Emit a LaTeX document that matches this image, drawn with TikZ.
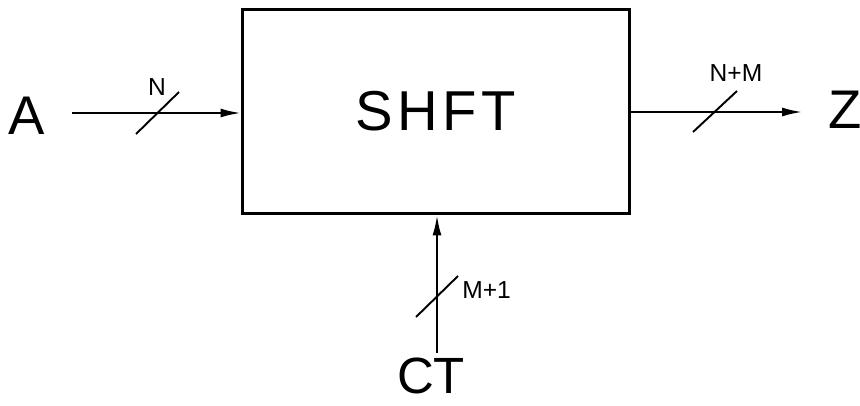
\documentclass[tikz,border=0pt]{standalone}
\usepackage{fontspec}
\setmainfont{Liberation Sans}
\usepackage{tikz}
\usetikzlibrary{positioning, calc, arrows.meta}

\tikzset{
    bigtxt/.style={font=\fontsize{31}{33}\selectfont, inner sep=0pt},
    bustxt/.style={font=\fontsize{14}{16}\selectfont, inner sep=0pt},
    sig/.style={line width=1.1pt, -{Latex[length=4mm, width=1.8mm]}},
    slash/.style={line width=1.1pt}
}

\begin{document}
\begin{tikzpicture}[x=0.02cm, y=-0.02cm]

    \useasboundingbox (0,0) rectangle (860,406);

    % --- Shifter Block ---
    \node[draw, line width=1.7pt, minimum width=7.76cm, minimum height=4.1cm,
          bigtxt, font=\fontsize{32}{34}\selectfont\addfontfeature{LetterSpace=8}] (shft) at (436,111.5) {SHFT};

    % --- Ports ---
    \node[bigtxt] (a) at (27,116) {A};
    \node[bigtxt] (z) at (845,110) {Z};
    \node[bigtxt, font=\fontsize{29}{31}\selectfont, anchor=north] (ct) at (431,358) {CT};

    % --- Free ends of the wires ---
    \coordinate (ain) at (72,113);
    \coordinate (zout) at (802,112);
    \coordinate (ctin) at (437,353);

    % --- Input A ---
    \draw[sig] (ain) -- (ain -| shft.west);
    \draw[slash] (157,113) ++(-21,21) -- ++(43,-42);
    \node[bustxt] (wn) at (157,87) {N};

    % --- Output Z ---
    \draw[sig] (zout -| shft.east) -- (zout);
    \draw[slash] (715,112) ++(-22,20) -- ++(44,-41);
    \node[bustxt] (wnm) at (736,73) {N+M};

    % --- Control CT ---
    \draw[sig] (ctin) -- (ctin |- shft.south);
    \draw[slash] (437,296) ++(-21,21) -- ++(42,-41);
    \node[bustxt, anchor=west] (wm) at (462,290) {M+1};

\end{tikzpicture}
\end{document}
